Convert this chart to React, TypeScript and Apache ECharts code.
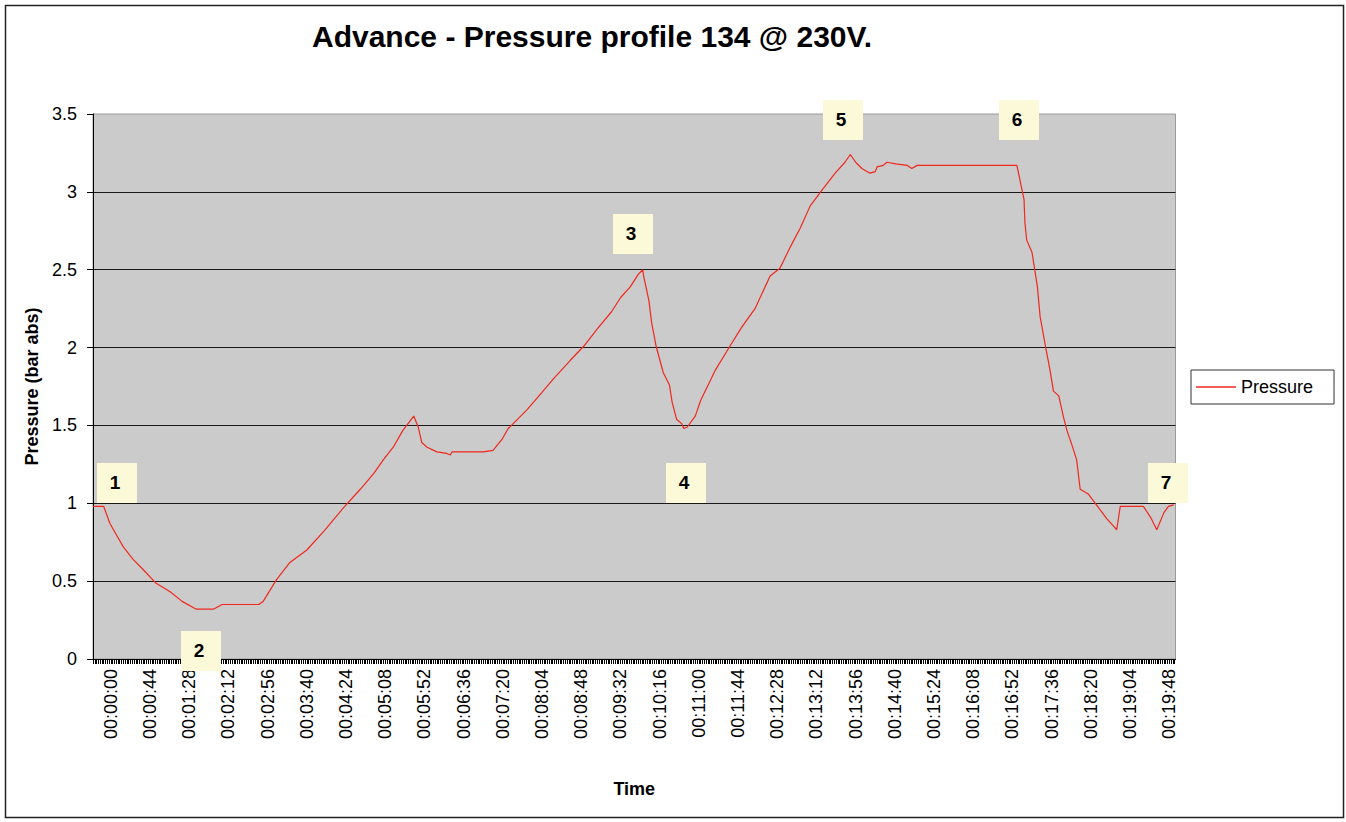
import React, { useEffect, useRef } from "react";
import * as echarts from "echarts";

const TITLE = "Advance - Pressure profile 134 @ 230V.";
const SERIES_NAME = "Pressure";
const Y_NAME = "Pressure (bar abs)";
const X_NAME = "Time";

const TIME_LABELS = [
  "00:00:00", "00:00:44", "00:01:28", "00:02:12", "00:02:56", "00:03:40", "00:04:24",
  "00:05:08", "00:05:52", "00:06:36", "00:07:20", "00:08:04", "00:08:48", "00:09:32",
  "00:10:16", "00:11:00", "00:11:44", "00:12:28", "00:13:12", "00:13:56", "00:14:40",
  "00:15:24", "00:16:08", "00:16:52", "00:17:36", "00:18:20", "00:19:04", "00:19:48",
];

// elapsed time (seconds) of each traced vertex
const TIME_S = [
  -20, -8, -1, 7, 14, 25, 37, 50, 67, 80,
  96, 115, 125, 166, 171, 186, 201, 220, 239, 261,
  280, 295, 306, 317, 328, 340, 345, 349, 355, 366,
  377, 381, 383, 418, 429, 439, 446, 467, 482, 497,
  516, 531, 546, 562, 572, 583, 592, 597, 598, 604,
  607, 612, 620, 627, 630, 635, 641, 643, 647, 656,
  662, 673, 678, 695, 708, 723, 740, 751, 763, 774,
  785, 798, 813, 824, 830, 836, 843, 852, 858, 860,
  867, 871, 881, 894, 899, 905, 1017, 1021, 1025, 1026,
  1028, 1034, 1040, 1043, 1049, 1054, 1058, 1064, 1069, 1073,
  1079, 1084, 1088, 1097, 1105, 1118, 1126, 1129, 1133, 1137,
  1159, 1167, 1174, 1182, 1187, 1193,
];

// pressure (bar abs)
const PRESSURE = [
  0.98, 0.98, 0.87, 0.79, 0.72, 0.64, 0.57, 0.49, 0.43, 0.37,
  0.32, 0.32, 0.35, 0.35, 0.37, 0.51, 0.62, 0.70, 0.82, 0.97,
  1.09, 1.19, 1.28, 1.36, 1.47, 1.56, 1.49, 1.39, 1.36, 1.33,
  1.32, 1.31, 1.33, 1.33, 1.34, 1.41, 1.48, 1.60, 1.70, 1.80,
  1.92, 2.01, 2.12, 2.23, 2.32, 2.39, 2.47, 2.50, 2.46, 2.30,
  2.16, 2.01, 1.84, 1.76, 1.65, 1.54, 1.51, 1.48, 1.49, 1.56,
  1.66, 1.79, 1.85, 2.01, 2.13, 2.25, 2.46, 2.51, 2.65, 2.77,
  2.91, 3.01, 3.12, 3.19, 3.24, 3.19, 3.15, 3.12, 3.13, 3.16,
  3.17, 3.19, 3.18, 3.17, 3.15, 3.17, 3.17, 3.06, 2.95, 2.80,
  2.69, 2.61, 2.39, 2.20, 2.01, 1.86, 1.72, 1.69, 1.56, 1.47,
  1.37, 1.28, 1.09, 1.06, 1.00, 0.90, 0.85, 0.83, 0.98, 0.98,
  0.98, 0.91, 0.83, 0.94, 0.98, 0.99,
];

const NOTE_LABELS = ["1", "2", "3", "4", "5", "6", "7"];

const FONT = "'Liberation Sans', Arial, Helvetica, sans-serif";

const toSec = (s: string) => {
  const [h, m, x] = s.split(":").map(Number);
  return h * 3600 + m * 60 + x;
};

export default function App() {
  const ref = useRef<HTMLDivElement>(null);

  useEffect(() => {
    if (!ref.current) return;
    const chart = echarts.init(ref.current, null, { renderer: "svg" });

    const labelSecs = TIME_LABELS.map(toSec);
    const labelMap: Record<number, string> = {};
    labelSecs.forEach((s, i) => (labelMap[s] = TIME_LABELS[i]));
    const tickSecs: number[] = [];
    for (let s = -20; s <= 1195; s += 2) tickSecs.push(s);

    const data = TIME_S.map((t, i) => [t, PRESSURE[i]]);

    // annotation box layout (pixels)
    const notePos = [
      [97, 463], [181, 631], [613, 214], [666, 463], [823, 100], [999, 100], [1148, 463],
    ];
    const noteEls: any[] = [];
    NOTE_LABELS.forEach((lab, i) => {
      const [x, y] = notePos[i];
      noteEls.push({
        type: "rect",
        shape: { x, y, width: 40, height: 40 },
        style: { fill: "#FCF9D8" },
        z: 10,
      });
      noteEls.push({
        type: "text",
        x: x + 18,
        y: y + 19,
        style: {
          text: lab,
          font: `bold 19px ${FONT}`,
          fill: "#000",
          textAlign: "center",
          textVerticalAlign: "middle",
        },
        z: 11,
      });
    });

    chart.setOption({
      animation: false,
      backgroundColor: "#ffffff",
      title: {
        text: TITLE,
        left: 312,
        top: 21,
        padding: 0,
        textStyle: { fontFamily: FONT, fontSize: 30, fontWeight: "bold", color: "#000" },
      },
      legend: {
        left: 1191,
        top: 370,
        orient: "vertical",
        padding: [8, 21, 8, 5],
        borderColor: "#333",
        borderWidth: 1,
        backgroundColor: "#fff",
        icon: "rect",
        itemWidth: 40,
        itemHeight: 1.5,
        textStyle: { fontFamily: FONT, fontSize: 18, color: "#000", lineHeight: 18 },
        data: [SERIES_NAME],
      },
      grid: {
        left: 93,
        right: 170.5,
        top: 114,
        bottom: 163,
        show: true,
        backgroundColor: "#CBCBCB",
        borderColor: "#9a9a9a",
        borderWidth: 1,
      },
      xAxis: {
        type: "value",
        min: -20,
        max: 1195,
        name: X_NAME,
        nameLocation: "middle",
        nameGap: 121,
        nameTextStyle: { fontFamily: FONT, fontSize: 18, fontWeight: "bold", color: "#000" },
        axisLine: { show: true, onZero: false, lineStyle: { color: "#000", width: 1 } },
        axisTick: {
          show: true,
          customValues: tickSecs,
          length: 5,
          lineStyle: { color: "#000", width: 1 },
        },
        axisLabel: {
          customValues: labelSecs,
          rotate: 90,
          margin: 10,
          fontFamily: FONT,
          fontSize: 18,
          color: "#000",
          formatter: (v: number) => labelMap[v] ?? "",
        },
        splitLine: { show: false },
      },
      yAxis: {
        type: "value",
        min: 0,
        max: 3.5,
        interval: 0.5,
        name: Y_NAME,
        nameLocation: "middle",
        nameGap: 34,
        nameTextStyle: { fontFamily: FONT, fontSize: 18, fontWeight: "bold", color: "#000" },
        axisLine: { show: true, onZero: false, lineStyle: { color: "#000", width: 1 } },
        axisTick: { show: true, length: 6, lineStyle: { color: "#000" } },
        axisLabel: { margin: 16, fontFamily: FONT, fontSize: 18, color: "#000" },
        splitLine: { show: true, showMaxLine: false, lineStyle: { color: "#1a1a1a", width: 1 } },
      },
      series: [
        {
          name: SERIES_NAME,
          type: "line",
          data,
          symbol: "none",
          lineStyle: { color: "#f0281e", width: 1.2 },
          itemStyle: { color: "#f0281e" },
        },
      ],
      graphic: [
        {
          type: "rect",
          shape: { x: 5.5, y: 5.5, width: 1338, height: 812 },
          style: { fill: "none", stroke: "#222", lineWidth: 1.5 },
          silent: true,
        },
        ...noteEls,
      ],
    });

    return () => chart.dispose();
  }, []);

  return (
    <div
      ref={ref}
      style={{ position: "fixed", left: 0, top: 0, width: 1346, height: 822 }}
    />
  );
}
